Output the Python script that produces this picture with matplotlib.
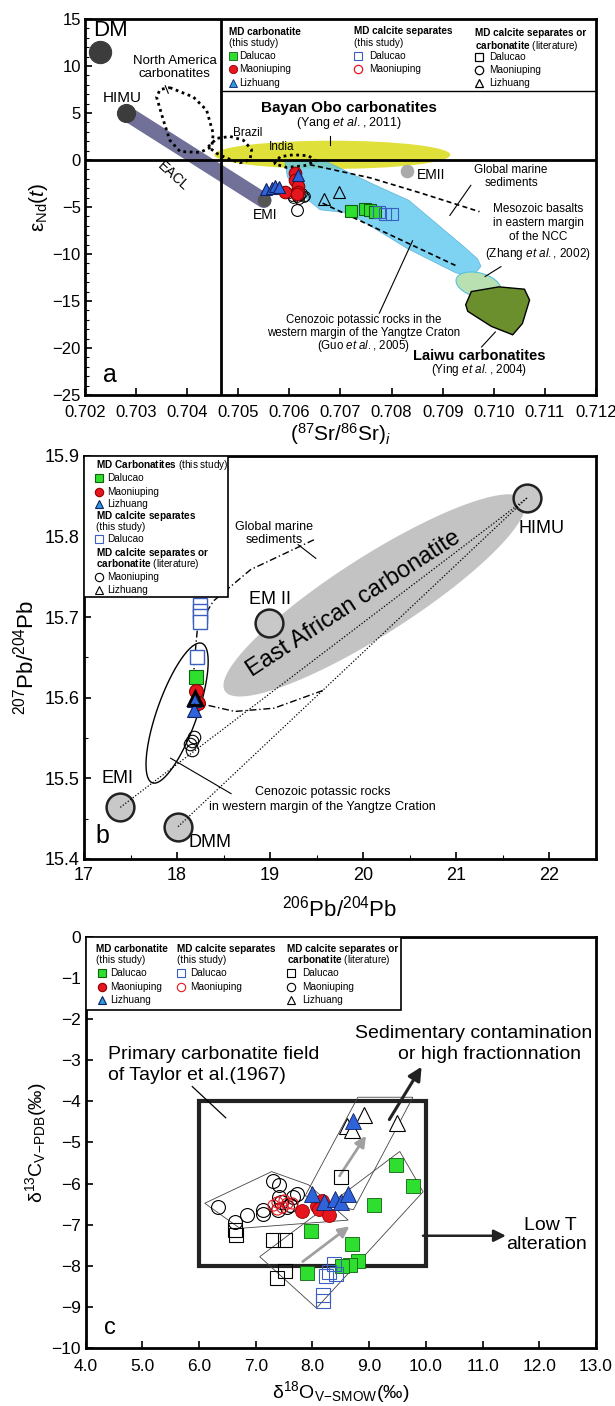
import numpy as np
import matplotlib.pyplot as plt
from matplotlib.patches import Ellipse, Polygon, Rectangle

plt.rcParams['font.family'] = ['Liberation Sans', 'DejaVu Sans']
plt.rcParams['mathtext.fontset'] = 'custom'
plt.rcParams['mathtext.rm'] = 'Liberation Sans'
plt.rcParams['mathtext.it'] = 'Liberation Sans:italic'
plt.rcParams['mathtext.bf'] = 'Liberation Sans:bold'

GREEN = '#2fdf2f'
RED = '#e5161e'
BLUE = '#2f63d9'
LBLUE = '#2a9be0'
OBLUE = '#3a5fc0'

# ---------------- panel a : Sr-Nd ----------------
# end members DM, HIMU, EMI, EMII
em_a_sr = [0.7023, 0.7028, 0.7055, 0.7083]
em_a_nd = [11.5, 5.0, -4.3, -1.2]

a_dal_sr = [0.70720, 0.70748, 0.70758, 0.70768]
a_dal_nd = [-5.4, -5.2, -5.35, -5.5]
a_dal_sep_sr = [0.70776, 0.70788, 0.70800]
a_dal_sep_nd = [-5.5, -5.7, -5.8]
a_mao_sr = [0.70610, 0.70611, 0.70616, 0.70616, 0.70591, 0.70614]
a_mao_nd = [-1.4, -2.1, -2.8, -3.4, -3.4, -3.6]
a_liz_sr = [0.70555, 0.70565, 0.70572, 0.70580, 0.70616]
a_liz_nd = [-3.1, -3.0, -2.8, -2.9, -1.6]
a_mao_lit_sr = [0.7060, 0.70605, 0.7061, 0.70615, 0.7062, 0.70625, 0.7063, 0.70608, 0.70618, 0.70628]
a_mao_lit_nd = [-3.5, -3.8, -3.6, -3.9, -3.7, -3.5, -3.8, -4.0, -4.1, -3.9]
a_mao_lit2_sr = [0.70614]
a_mao_lit2_nd = [-5.3]
a_liz_lit_sr = [0.70668, 0.70697]
a_liz_lit_nd = [-4.2, -3.4]

# field outlines
na_sr = [0.70366, 0.70412, 0.70438, 0.70451, 0.70448, 0.70425, 0.70386, 0.70366, 0.70353, 0.70340, 0.70347, 0.70366]
na_nd = [7.7, 6.7, 5.3, 2.8, 1.4, 0.8, 0.9, 2.1, 4.3, 6.7, 7.5, 7.7]
brazil_sr = [0.70441, 0.70458, 0.70484, 0.70510, 0.70526, 0.70523, 0.70503, 0.70477, 0.70458, 0.70441]
brazil_nd = [1.4, 2.3, 2.5, 2.1, 1.1, 0.0, -0.3, 0.2, 0.7, 1.4]
india_sr = [0.70570, 0.70582, 0.70608, 0.70637, 0.70652, 0.70630, 0.70595, 0.70570]
india_nd = [-0.4, 0.35, 0.55, 0.45, -0.1, -0.6, -0.8, -0.4]
gms_sr = [0.70640, 0.70758, 0.70856, 0.70972]
gms_nd = [-0.5, -1.9, -3.5, -5.5]
ccz_line_sr = [0.70665, 0.70930]
ccz_line_nd = [-4.6, -11.35]
cyan_sr = [0.70591, 0.70666, 0.70761, 0.70834, 0.70941, 0.70968, 0.70975, 0.70965, 0.70945,
           0.70925, 0.70830, 0.70718, 0.70660, 0.70615, 0.70596]
cyan_nd = [-0.1, 0.0, -2.5, -4.3, -9.2, -10.5, -11.3, -12.0, -12.25, -12.0, -9.4, -5.67, -5.3, -3.3, -1.8]
laiwu_sr = [0.70945, 0.70956, 0.71010, 0.71060, 0.71070, 0.71056, 0.71037, 0.70995, 0.70949]
laiwu_nd = [-15.4, -14.0, -13.5, -13.75, -14.9, -17.4, -18.6, -17.7, -16.1]

# ---------------- panel b : Pb-Pb ----------------
em_b_206 = [21.76, 18.99, 17.39, 18.01]     # HIMU, EM II, EMI, DMM
em_b_207 = [15.848, 15.693, 15.464, 15.44]
b_dal_206 = [18.20]
b_dal_207 = [15.626]
b_dal_sep_206 = [18.25, 18.25, 18.25, 18.25, 18.21]
b_dal_sep_207 = [15.715, 15.708, 15.701, 15.694, 15.651]
b_mao_206 = [18.20, 18.22]
b_mao_207 = [15.608, 15.593]
b_liz_206 = [18.18, 18.18]
b_liz_207 = [15.597, 15.585]
b_liz_lit_206 = [18.19]
b_liz_lit_207 = [15.600]
b_mao_lit_206 = [18.18, 18.16, 18.14, 18.16]
b_mao_lit_207 = [15.551, 15.546, 15.542, 15.535]
gms_b_206 = [19.47, 18.79, 18.39, 18.22, 18.20, 18.17, 18.24, 18.62, 19.04, 19.59]
gms_b_207 = [15.796, 15.759, 15.720, 15.688, 15.663, 15.618, 15.593, 15.583, 15.587, 15.610]

# ---------------- panel c : C-O ----------------
c_dal_o = [9.47, 9.78, 9.08, 7.98, 8.70, 8.80, 8.67, 8.52, 7.91]
c_dal_c = [-5.55, -6.05, -6.53, -7.15, -7.47, -7.88, -7.98, -8.0, -8.18]
c_dal_sep_o = [8.38, 8.30, 8.42, 8.24, 8.19, 8.19]
c_dal_sep_c = [-7.95, -8.15, -8.2, -8.25, -8.72, -8.85]
c_dal_lit_o = [8.51, 6.63, 6.65, 7.31, 7.51, 7.51, 7.37]
c_dal_lit_c = [-5.83, -7.13, -7.25, -7.37, -7.37, -8.14, -8.3]
c_mao_lit_o = [6.34, 6.63, 6.84, 7.13, 7.13, 7.31, 7.41, 7.41, 7.40, 7.60, 7.66, 7.72, 7.45, 7.55]
c_mao_lit_c = [-6.56, -6.93, -6.76, -6.64, -6.75, -5.95, -6.03, -6.32, -6.64, -6.52, -6.32, -6.25, -6.45, -6.58]
c_mao_sep_o = [7.30, 7.38, 7.46, 7.55, 7.63, 7.37, 7.49]
c_mao_sep_c = [-6.52, -6.44, -6.56, -6.48, -6.48, -6.62, -6.40]
c_mao_o = [7.82, 8.08, 8.17, 8.12, 8.30]
c_mao_c = [-6.66, -6.55, -6.42, -6.63, -6.77]
c_liz_o = [8.71, 8.0, 8.2, 8.4, 8.5, 8.62]
c_liz_c = [-4.47, -6.26, -6.46, -6.38, -6.44, -6.26]
c_liz_lit_o = [8.9, 8.6, 8.7, 9.49]
c_liz_lit_c = [-4.33, -4.6, -4.7, -4.53]
mao_field_o = [6.10, 7.28, 7.93, 8.63, 6.72]
mao_field_c = [-6.48, -5.71, -6.03, -6.89, -7.09]
liz_field_o = [7.87, 8.80, 9.77, 8.72]
liz_field_c = [-6.3, -3.9, -3.9, -6.64]
dal_field_o = [7.07, 9.54, 9.95, 8.07]
dal_field_c = [-7.78, -5.22, -6.2, -9.03]

fig = plt.figure(figsize=(6.15, 14.06), dpi=100)


def tilted_ellipse(ax, cx, cy, length, width, angle, **kw):
    # length / width in screen pixels, angle in screen degrees
    bb = ax.get_position()
    W, H = fig.get_size_inches() * fig.dpi
    x0, x1 = ax.get_xlim()
    y0, y1 = ax.get_ylim()
    sx = bb.width * W / (x1 - x0)
    sy = bb.height * H / (y1 - y0)
    t = np.linspace(0, 2 * np.pi, 200)
    a = np.deg2rad(angle)
    u = length / 2 * np.cos(t)
    v = width / 2 * np.sin(t)
    px = u * np.cos(a) - v * np.sin(a)
    py = u * np.sin(a) + v * np.cos(a)
    ax.add_patch(Polygon(np.column_stack([cx + px / sx, cy + py / sy]), closed=True, **kw))


def style_axes(ax, lw=2.0):
    for s in ax.spines.values():
        s.set_linewidth(lw)
    ax.tick_params(direction='in', which='both', top=False, right=False)
    ax.tick_params(which='major', length=5, width=1.2)
    ax.tick_params(which='minor', length=3, width=0.8)


def mk(ax, x, y, m, fc, ec, ms, mew=0.8, z=5, tr=None):
    kw = {} if tr is None else {'transform': tr, 'clip_on': False}
    ax.plot(x, y, ls='none', marker=m, mfc=fc, mec=ec, ms=ms, mew=mew, zorder=z, **kw)


# ================= panel a =================
axa = fig.add_axes([0.1382, 0.7191, 0.8309, 0.2674])
axa.set_xlim(0.702, 0.712)
axa.set_ylim(-25, 15)
style_axes(axa)
axa.set_xticks(np.arange(0.702, 0.7121, 0.001))
axa.set_xticklabels(['%.3f' % v for v in np.arange(0.702, 0.7121, 0.001)], fontsize=12)
axa.set_yticks(np.arange(-25, 16, 5))
axa.set_yticks(np.arange(-25, 16, 1), minor=True)
axa.tick_params(axis='y', labelsize=12, pad=3)
axa.tick_params(axis='x', pad=7)
axa.set_xlabel(r'$(^{87}\mathrm{Sr}/^{86}\mathrm{Sr})_i$', fontsize=15, labelpad=1)
axa.set_ylabel(r'ε$_{\mathrm{Nd}}(\mathit{t})$', fontsize=15, labelpad=2)

axa.add_patch(Ellipse((0.70684, 0.55), 0.00462, 3.0, fc='#e0e03a', ec='none', zorder=1))
axa.add_patch(Polygon(np.column_stack([cyan_sr, cyan_nd]), closed=True,
                      fc='#5ac6ef', ec='#4aa8d0', lw=0.5, alpha=0.78, zorder=2))
tilted_ellipse(axa, 0.7097, -13.3, 46, 24, -15, fc='#b9e0b0', ec='#55c0e0', lw=0.8, zorder=2)
axa.add_patch(Polygon(np.column_stack([laiwu_sr, laiwu_nd]), closed=True,
                      fc='#6a8f2c', ec='black', lw=1.0, zorder=3))
axa.plot(em_a_sr[1:3], em_a_nd[1:3], color='#707099', lw=11, solid_capstyle='round', zorder=1)

axa.plot(na_sr, na_nd, color='black', lw=2, ls=(0, (1, 1.3)), zorder=3)
axa.plot(brazil_sr, brazil_nd, color='black', lw=2, ls=(0, (1, 1.3)), zorder=3)
axa.plot(india_sr, india_nd, color='black', lw=2, ls=(0, (1, 1.3)), zorder=3)
axa.plot(gms_sr, gms_nd, color='black', lw=1.2, ls=(0, (3, 2)), zorder=3)
axa.plot(ccz_line_sr, ccz_line_nd, color='black', lw=1.2, ls=(0, (3, 2)), zorder=3)

axa.axvline(0.70467, color='black', lw=2, zorder=4)
axa.axhline(0.0, color='black', lw=2, zorder=4)
axa.plot([0.70467, 0.712], [7.37, 7.37], color='black', lw=1, zorder=4)

mk(axa, em_a_sr[0], em_a_nd[0], 'o', '#3c3c3c', '#3c3c3c', 16)
mk(axa, em_a_sr[1], em_a_nd[1], 'o', '#3c3c3c', '#3c3c3c', 13)
mk(axa, em_a_sr[2], em_a_nd[2], 'o', '#555555', '#555555', 9)
mk(axa, em_a_sr[3], em_a_nd[3], 'o', '#aaaaaa', '#aaaaaa', 9)

mk(axa, a_mao_lit_sr, a_mao_lit_nd, 'o', 'none', 'black', 7, 0.7)
mk(axa, a_mao_lit2_sr, a_mao_lit2_nd, 'o', 'white', 'black', 8.5)
mk(axa, a_liz_lit_sr, a_liz_lit_nd, '^', 'none', 'black', 9)
mk(axa, a_mao_sr, a_mao_nd, 'o', RED, '#900000', 9)
mk(axa, a_liz_sr, a_liz_nd, '^', BLUE, '#102060', 9)
mk(axa, a_dal_sr, a_dal_nd, 's', GREEN, '#106010', 9)
mk(axa, a_dal_sep_sr, a_dal_sep_nd, 's', 'none', OBLUE, 9)

axa.text(0.70215, 13.8, 'DM', fontsize=16, va='center')
axa.text(0.70272, 6.6, 'HIMU', fontsize=11, ha='center', va='center')
axa.text(0.70553, -5.9, 'EMI', fontsize=10, ha='center', va='center')
axa.text(0.70850, -1.6, 'EMII', fontsize=10, va='center')
axa.text(0.70372, -1.7, 'EACL', fontsize=10, rotation=-42, ha='center', va='center')
axa.text(0.70376, 9.8, 'North America\ncarbonatites', fontsize=9.5, ha='center', va='center',
         linespacing=1.1)
axa.plot([0.70357, 0.70363], [7.9, 7.1], color='black', lw=0.8)
axa.text(0.70490, 2.9, 'Brazil', fontsize=8.5, va='center')
axa.text(0.70585, 1.35, 'India', fontsize=8.5, ha='center', va='center')
axa.text(0.70717, 5.5, 'Bayan Obo carbonatites', fontsize=11, fontweight='bold',
         ha='center', va='center')
axa.text(0.70717, 3.95, r'(Yang $\mathit{et\ al.}$, 2011)', fontsize=9, ha='center', va='center')
axa.plot([0.70680, 0.70680], [2.6, 1.6], color='black', lw=0.8)
axa.text(0.71034, -1.75, 'Global marine\nsediments', fontsize=8.5, ha='center', va='center',
         linespacing=1.1)
axa.plot([0.70955, 0.70914], [-2.7, -5.9], color='black', lw=0.8)
axa.text(0.71087, -7.7, 'Mesozoic basalts\nin eastern margin\nof the NCC\n' +
         r'(Zhang $\mathit{et\ al.}$, 2002)', fontsize=8.5, ha='center', va='center',
         linespacing=1.25)
axa.plot([0.71014, 0.70983], [-11.35, -12.4], color='black', lw=0.8)
for yy, line in [(-17.0, 'Cenozoic potassic rocks in the'),
                 (-18.4, 'western margin of the Yangtze Craton'),
                 (-19.8, r'(Guo $\mathit{et\ al.}$, 2005)')]:
    axa.text(0.70745, yy, line, fontsize=8.3, ha='center', va='center')
axa.plot([0.70776, 0.70841], [-16.3, -8.6], color='black', lw=0.8)
axa.text(0.70972, -20.9, 'Laiwu carbonatites', fontsize=10.5, fontweight='bold',
         ha='center', va='center')
axa.text(0.70972, -22.3, r'(Ying $\mathit{et\ al.}$, 2004)', fontsize=8.5, ha='center', va='center')
axa.plot([0.70976, 0.71003], [-19.9, -18.3], color='black', lw=0.8)
axa.text(0.70235, -22.9, 'a', fontsize=18, va='center')

# legend a
T = axa.transAxes
lg = 7.2
axa.text(0.282, 0.965, 'MD carbonatite', fontsize=lg, fontweight='bold', va='center', transform=T)
axa.text(0.282, 0.935, '(this study)', fontsize=lg, va='center', transform=T)
for yy, lab, m, fc, ec in [(0.902, 'Dalucao', 's', GREEN, '#106010'),
                           (0.867, 'Maoniuping', 'o', RED, '#900000'),
                           (0.831, 'Lizhuang', '^', LBLUE, '#102060')]:
    mk(axa, [0.289], [yy], m, fc, ec, 6, 0.6, 6, T)
    axa.text(0.302, yy, lab, fontsize=lg, va='center', transform=T)
axa.text(0.526, 0.967, 'MD calcite separates', fontsize=lg, fontweight='bold', va='center', transform=T)
axa.text(0.526, 0.935, '(this study)', fontsize=lg, va='center', transform=T)
mk(axa, [0.535], [0.902], 's', 'white', OBLUE, 6, 0.8, 6, T)
axa.text(0.557, 0.902, 'Dalucao', fontsize=lg, va='center', transform=T)
mk(axa, [0.535], [0.867], 'o', 'white', RED, 6, 0.9, 6, T)
axa.text(0.557, 0.867, 'Maoniuping', fontsize=lg, va='center', transform=T)
axa.text(0.764, 0.962, 'MD calcite separates or', fontsize=lg, fontweight='bold', va='center', transform=T)
axa.text(0.764, 0.929, r'$\mathbf{carbonatite}$ (literature)', fontsize=lg, va='center', transform=T)
for yy, lab, m in [(0.898, 'Dalucao', 's'), (0.864, 'Maoniuping', 'o'), (0.829, 'Lizhuang', '^')]:
    mk(axa, [0.772], [yy], m, 'white', 'black', 6, 0.9, 6, T)
    axa.text(0.791, yy, lab, fontsize=lg, va='center', transform=T)

# ================= panel b =================
axb = fig.add_axes([0.1366, 0.3891, 0.8325, 0.2866])
axb.set_xlim(17, 22.5)
axb.set_ylim(15.4, 15.9)
style_axes(axb)
axb.set_xticks(np.arange(17, 22.1, 1))
axb.set_xticks(np.arange(17, 22.6, 0.5), minor=True)
axb.set_yticks(np.arange(15.4, 15.91, 0.1))
axb.set_yticks(np.arange(15.4, 15.91, 0.05), minor=True)
axb.set_yticklabels(['%.1f' % v for v in np.arange(15.4, 15.91, 0.1)])
axb.tick_params(axis='both', labelsize=13)
axb.tick_params(axis='x', pad=6)
axb.set_xlabel(r'$^{206}\mathrm{Pb}/^{204}\mathrm{Pb}$', fontsize=16, labelpad=8)
axb.set_ylabel(r'$^{207}\mathrm{Pb}/^{204}\mathrm{Pb}$', fontsize=16, labelpad=4)

tilted_ellipse(axb, 20.12, 15.727, 355, 78, 32.6, fc='#c3c3c3', ec='none', zorder=1)
tilted_ellipse(axb, 18.0, 15.581, 148, 40, 70.5, fc='none', ec='black', lw=1.0, zorder=3)
axb.plot(gms_b_206, gms_b_207, color='black', lw=1.0, ls=(0, (5, 2, 1, 2)), zorder=3)
for i in (2, 3):
    axb.plot([em_b_206[i], em_b_206[0]], [em_b_207[i], em_b_207[0]], color='black',
             lw=0.9, ls=(0, (1, 1.5)), zorder=6)
for x, y in zip(em_b_206, em_b_207):
    mk(axb, [x], [y], 'o', '#c8c8c8', '#222222', 20, 1.8, 4)
axb.text(21.91, 15.81, 'HIMU', fontsize=13, ha='center', va='center')
axb.text(19.0, 15.722, 'EM II', fontsize=13, ha='center', va='center')
axb.text(17.36, 15.50, 'EMI', fontsize=13, ha='center', va='center')
axb.text(18.35, 15.42, 'DMM', fontsize=13, ha='center', va='center')
axb.text(17.2, 15.428, 'b', fontsize=18, ha='center', va='center')
axb.text(19.90, 15.717, 'East African carbonatite', fontsize=17, rotation=33,
         ha='center', va='center', rotation_mode='anchor', zorder=2)
axb.text(19.04, 15.804, 'Global marine\nsediments', fontsize=9, ha='center', va='center',
         linespacing=1.1)
axb.plot([19.30, 19.49], [15.79, 15.773], color='black', lw=0.8)
axb.text(19.56, 15.474, 'Cenozoic potassic rocks\nin western margin of the Yangtze Cration',
         fontsize=9, ha='center', va='center', linespacing=1.3)
axb.plot([17.93, 18.58], [15.525, 15.481], color='black', lw=0.8)

mk(axb, b_mao_lit_206, b_mao_lit_207, 'o', 'none', 'black', 9, 0.8)
mk(axb, b_dal_sep_206, b_dal_sep_207, 's', 'white', OBLUE, 10, 1.0)
mk(axb, b_dal_206, b_dal_207, 's', GREEN, '#106010', 10)
mk(axb, b_mao_206, b_mao_207, 'o', RED, '#900000', 10)
mk(axb, b_liz_206, b_liz_207, '^', BLUE, '#102060', 10)
mk(axb, b_liz_lit_206, b_liz_lit_207, '^', 'none', 'black', 10, 2.0)

# legend b
T = axb.transAxes
axb.add_patch(Rectangle((0, 0.651), 0.281, 0.349, transform=T, fc='white', ec='black',
                        lw=1.2, zorder=7))
rows = [(0.978, r'$\mathbf{MD\ Carbonatites}$ (this study)', None),
        (0.945, 'Dalucao', ('s', GREEN, '#106010')),
        (0.911, 'Maoniuping', ('o', RED, '#900000')),
        (0.881, 'Lizhuang', ('^', LBLUE, '#102060')),
        (0.851, r'$\mathbf{MD\ calcite\ separates}$', None),
        (0.823, '(this study)', None),
        (0.793, 'Dalucao', ('s', 'white', OBLUE)),
        (0.760, r'$\mathbf{MD\ calcite\ separates\ or}$', None),
        (0.732, r'$\mathbf{carbonatite}$ (literature)', None),
        (0.700, 'Maoniuping', ('o', 'white', 'black')),
        (0.667, 'Lizhuang', ('^', 'white', 'black'))]
for yy, lab, sym in rows:
    if sym is None:
        axb.text(0.024, yy, lab, fontsize=7.2, va='center', transform=T, zorder=8)
    else:
        mk(axb, [0.030], [yy], sym[0], sym[1], sym[2], 6, 0.8, 8, T)
        axb.text(0.045, yy, lab, fontsize=7.2, va='center', transform=T, zorder=8)

# ================= panel c =================
axc = fig.add_axes([0.1393, 0.0413, 0.8298, 0.2923])
axc.set_xlim(4, 13)
axc.set_ylim(-10, 0)
style_axes(axc)
axc.set_xticks(np.arange(4, 13.1, 1))
axc.set_xticklabels(['%.1f' % v for v in np.arange(4, 13.1, 1)])
axc.set_yticks(np.arange(-10, 0.1, 1))
axc.tick_params(axis='both', labelsize=12.5)
axc.tick_params(axis='x', pad=8)
axc.set_xlabel(r'δ$^{18}\mathrm{O}_{\mathrm{V\!-\!SMOW}}$(‰)', fontsize=14, labelpad=4)
axc.set_ylabel(r'δ$^{13}\mathrm{C}_{\mathrm{V\!-\!PDB}}$(‰)', fontsize=14, labelpad=2)

axc.add_patch(Rectangle((6, -8), 4, 4, fc='none', ec='#222222', lw=3, zorder=2))
for fo, fcv in [(mao_field_o, mao_field_c), (liz_field_o, liz_field_c), (dal_field_o, dal_field_c)]:
    axc.add_patch(Polygon(np.column_stack([fo, fcv]), closed=True, fc='none', ec='#444444',
                          lw=0.6, zorder=2))
axc.annotate('', xy=(8.97, -4.78), xytext=(8.45, -5.87),
             arrowprops=dict(arrowstyle='-|>', color='#a0a0a0', lw=2, mutation_scale=16), zorder=3)
axc.annotate('', xy=(8.69, -7.0), xytext=(7.79, -7.94),
             arrowprops=dict(arrowstyle='-|>', color='#a0a0a0', lw=2, mutation_scale=16), zorder=3)
axc.annotate('', xy=(9.95, -3.1), xytext=(9.33, -4.5),
             arrowprops=dict(arrowstyle='-|>', color='#222222', lw=2.2, mutation_scale=20), zorder=3)
axc.annotate('', xy=(11.46, -7.27), xytext=(9.9, -7.27),
             arrowprops=dict(arrowstyle='-|>', color='#222222', lw=1.8, mutation_scale=18), zorder=3)
axc.plot([5.88, 6.47], [-3.64, -4.4], color='black', lw=0.9)

mk(axc, c_mao_lit_o, c_mao_lit_c, 'o', 'none', 'black', 10, 0.8)
mk(axc, c_dal_lit_o, c_dal_lit_c, 's', 'none', 'black', 10, 0.8)
mk(axc, c_mao_sep_o, c_mao_sep_c, 'o', 'none', RED, 8, 0.8)
mk(axc, c_mao_o, c_mao_c, 'o', RED, '#a00000', 10, 0.6)
mk(axc, c_liz_lit_o, c_liz_lit_c, '^', 'white', 'black', 11, 0.8)
mk(axc, c_liz_o, c_liz_c, '^', BLUE, '#102060', 11, 0.6)
mk(axc, c_dal_o, c_dal_c, 's', GREEN, '#106010', 10.5, 0.6)
mk(axc, c_dal_sep_o, c_dal_sep_c, 's', 'none', OBLUE, 10, 0.8)

axc.text(10.85, -2.36, 'Sedimentary contamination', fontsize=14, ha='center', va='center')
axc.text(11.12, -2.87, 'or high fractionnation', fontsize=14, ha='center', va='center')
axc.text(4.40, -2.85, 'Primary carbonatite field', fontsize=14, va='center')
axc.text(4.40, -3.38, 'of Taylor et al.(1967)', fontsize=14, va='center')
axc.text(12.19, -7.03, 'Low T', fontsize=14, ha='center', va='center')
axc.text(12.12, -7.49, 'alteration', fontsize=14, ha='center', va='center')
axc.text(4.32, -9.52, 'c', fontsize=17, va='center')

# legend c
T = axc.transAxes
axc.add_patch(Rectangle((0, 0.822), 0.617, 0.178, transform=T, fc='white', ec='black',
                        lw=1.2, zorder=7))
lg = 7.2
axc.text(0.021, 0.971, 'MD carbonatite', fontsize=lg, fontweight='bold', va='center', transform=T, zorder=8)
axc.text(0.021, 0.944, '(this study)', fontsize=lg, va='center', transform=T, zorder=8)
axc.text(0.1785, 0.971, 'MD calcite separates', fontsize=lg, fontweight='bold', va='center', transform=T, zorder=8)
axc.text(0.1785, 0.944, '(this study)', fontsize=lg, va='center', transform=T, zorder=8)
axc.text(0.394, 0.971, 'MD calcite separates or', fontsize=lg, fontweight='bold', va='center', transform=T, zorder=8)
axc.text(0.394, 0.944, r'$\mathbf{carbonatite}$ (literature)', fontsize=lg, va='center', transform=T, zorder=8)
items_c = [(0.032, 0.048, 0.912, 'Dalucao', 's', GREEN, '#106010'),
           (0.032, 0.048, 0.879, 'Maoniuping', 'o', RED, '#900000'),
           (0.032, 0.048, 0.847, 'Lizhuang', '^', LBLUE, '#102060'),
           (0.186, 0.2055, 0.912, 'Dalucao', 's', 'white', OBLUE),
           (0.186, 0.2055, 0.879, 'Maoniuping', 'o', 'white', RED),
           (0.403, 0.425, 0.912, 'Dalucao', 's', 'white', 'black'),
           (0.403, 0.425, 0.879, 'Maoniuping', 'o', 'white', 'black'),
           (0.403, 0.425, 0.847, 'Lizhuang', '^', 'white', 'black')]
for xm, xt, yy, lab, m, fc, ec in items_c:
    mk(axc, [xm], [yy], m, fc, ec, 6, 0.8, 8, T)
    axc.text(xt, yy, lab, fontsize=lg, va='center', transform=T, zorder=8)

fig.savefig('out.png', dpi=100)
